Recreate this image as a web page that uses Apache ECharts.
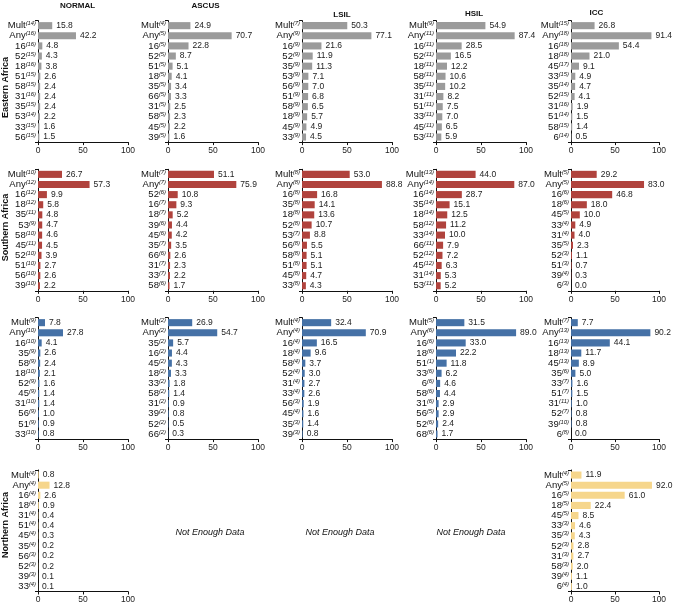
<!DOCTYPE html>
<html><head><meta charset="utf-8">
<script src="https://cdn.jsdelivr.net/npm/echarts/dist/echarts.min.js"></script>
<style>html,body{margin:0;padding:0;background:#fff}#c{width:674px;height:605px}</style>
</head><body><div id="c"></div><script>
// ---- data ----
const columns = ['NORMAL','ASCUS','LSIL','HSIL','ICC'];
const regions = ['Eastern Africa','Southern Africa','','Northern Africa'];
const noDataText = 'Not Enough Data';

// Eastern Africa
const eaNormalCats = ['Mult(14)','Any(16)','16(16)','52(15)','18(16)','51(15)','58(15)','31(16)','35(15)','53(14)','33(15)','56(15)'];
const eaNormalVals = [15.8,42.2,4.8,4.3,3.8,2.6,2.4,2.4,2.4,2.2,1.6,1.5];
const eaAscusCats = ['Mult(4)','Any(5)','16(5)','52(5)','51(5)','18(5)','35(5)','66(5)','31(5)','58(5)','45(5)','39(5)'];
const eaAscusVals = [24.9,70.7,22.8,8.7,5.1,4.1,3.4,3.3,2.5,2.3,2.2,1.6];
const eaLsilCats = ['Mult(7)','Any(9)','16(9)','52(9)','35(9)','53(9)','56(9)','51(9)','58(9)','18(9)','45(9)','33(9)'];
const eaLsilVals = [50.3,77.1,21.6,11.9,11.3,7.1,7.0,6.8,6.5,5.7,4.9,4.5];
const eaHsilCats = ['Mult(9)','Any(11)','16(11)','52(11)','18(11)','58(11)','35(11)','31(11)','51(11)','33(11)','45(11)','53(11)'];
const eaHsilVals = [54.9,87.4,28.5,16.5,12.2,10.6,10.2,8.2,7.5,7.0,6.5,5.9];
const eaIccCats = ['Mult(15)','Any(18)','16(18)','18(18)','45(17)','33(15)','35(14)','52(15)','31(16)','51(14)','58(15)','6(14)'];
const eaIccVals = [26.8,91.4,54.4,21.0,9.1,4.9,4.7,4.1,1.9,1.5,1.4,0.5];

// Southern Africa
const saNormalCats = ['Mult(10)','Any(12)','16(12)','18(12)','35(11)','53(9)','58(10)','45(11)','52(10)','51(10)','56(10)','39(10)'];
const saNormalVals = [26.7,57.3,9.9,5.8,4.8,4.7,4.6,4.5,3.9,2.7,2.6,2.2];
const saAscusCats = ['Mult(7)','Any(7)','52(6)','16(7)','18(7)','39(6)','45(6)','35(7)','66(6)','31(7)','33(7)','58(6)'];
const saAscusVals = [51.1,75.9,10.8,9.3,5.2,4.4,4.2,3.5,2.6,2.3,2.2,1.7];
const saLsilCats = ['Mult(8)','Any(8)','16(8)','35(8)','18(8)','52(8)','53(7)','56(8)','58(8)','51(8)','45(8)','33(8)'];
const saLsilVals = [53.0,88.8,16.8,14.1,13.6,10.7,8.8,5.5,5.1,5.1,4.7,4.3];
const saHsilCats = ['Mult(13)','Any(14)','16(14)','35(14)','18(14)','58(12)','33(14)','66(11)','52(12)','45(12)','31(14)','53(11)'];
const saHsilVals = [44.0,87.0,28.7,15.1,12.5,11.2,10.0,7.9,7.2,6.3,5.3,5.2];
const saIccCats = ['Mult(5)','Any(5)','16(6)','18(6)','45(5)','33(4)','31(4)','35(5)','52(3)','51(3)','39(4)','6(3)'];
const saIccVals = [29.2,83.0,46.8,18.0,10.0,4.9,4.0,2.3,1.1,0.7,0.3,0.0];

// third row (blue)
const r3NormalCats = ['Mult(9)','Any(10)','16(10)','35(9)','58(9)','18(10)','52(9)','45(9)','31(10)','56(9)','51(9)','33(10)'];
const r3NormalVals = [7.8,27.8,4.1,2.6,2.4,2.1,1.6,1.4,1.4,1.0,0.9,0.8];
const r3AscusCats = ['Mult(2)','Any(2)','35(2)','16(2)','45(2)','18(2)','33(2)','58(2)','31(2)','39(2)','52(2)','66(2)'];
const r3AscusVals = [26.9,54.7,5.7,4.4,4.3,3.3,1.8,1.4,0.9,0.8,0.5,0.3];
const r3LsilCats = ['Mult(4)','Any(4)','16(4)','18(4)','58(4)','52(4)','31(4)','33(4)','56(3)','45(4)','35(3)','39(3)'];
const r3LsilVals = [32.4,70.9,16.5,9.6,3.7,3.0,2.7,2.6,1.9,1.6,1.4,0.8];
const r3HsilCats = ['Mult(5)','Any(6)','16(6)','18(6)','51(1)','33(6)','6(6)','58(6)','31(6)','56(5)','52(6)','68(6)'];
const r3HsilVals = [31.5,89.0,33.0,22.2,11.8,6.2,4.6,4.4,2.9,2.9,2.4,1.7];
const r3IccCats = ['Mult(7)','Any(13)','16(13)','18(13)','45(13)','35(6)','33(7)','51(7)','31(11)','52(7)','39(10)','6(8)'];
const r3IccVals = [7.7,90.2,44.1,11.7,8.9,5.0,1.6,1.5,1.0,0.8,0.8,0.0];

// Northern Africa
const naNormalCats = ['Mult(4)','Any(4)','16(4)','18(4)','31(4)','51(4)','45(4)','35(4)','56(3)','52(3)','39(3)','33(4)'];
const naNormalVals = [0.8,12.8,2.6,0.9,0.4,0.4,0.3,0.2,0.2,0.2,0.1,0.1];
const naIccCats = ['Mult(4)','Any(5)','16(5)','18(5)','45(5)','33(3)','35(3)','52(3)','31(3)','58(3)','39(4)','6(4)'];
const naIccVals = [11.9,92.0,61.0,22.4,8.5,4.6,4.3,2.8,2.7,2.0,1.1,1.0];

const xTicks = [0, 50, 100];

const panels = [
  [0,0,eaNormalCats,eaNormalVals],[0,1,eaAscusCats,eaAscusVals],[0,2,eaLsilCats,eaLsilVals],[0,3,eaHsilCats,eaHsilVals],[0,4,eaIccCats,eaIccVals],
  [1,0,saNormalCats,saNormalVals],[1,1,saAscusCats,saAscusVals],[1,2,saLsilCats,saLsilVals],[1,3,saHsilCats,saHsilVals],[1,4,saIccCats,saIccVals],
  [2,0,r3NormalCats,r3NormalVals],[2,1,r3AscusCats,r3AscusVals],[2,2,r3LsilCats,r3LsilVals],[2,3,r3HsilCats,r3HsilVals],[2,4,r3IccCats,r3IccVals],
  [3,0,naNormalCats,naNormalVals],[3,4,naIccCats,naIccVals]
];
const noDataCells = [[3,1],[3,2],[3,3]];

// ---- layout / style ----
const rowColors = ['#9b9b9b','#b0433d','#4571a6','#f6d68c'];
const gridLeft = [38,168,302,436,571];
const gridWidth = [90,90,90,90,88];
const gridTop = [20.6,169.3,317.6,470];
const gridH = 121.5;
const titleX = [77.5,205.5,342,474,596.5];
const titleY = [6,6,15,14,13];
const regionY = [87.5,227.5,0,525];
const FONT = 'Liberation Sans, Arial, sans-serif';

const chart = echarts.init(document.getElementById('c'), null, {renderer:'canvas'});

const grids = [], xAxes = [], yAxes = [], series = [];
panels.forEach((p, i) => {
  const [r, c, cats, vals] = p;
  grids.push({left: gridLeft[c], top: gridTop[r], width: gridWidth[c], height: gridH, containLabel: false});
  xAxes.push({
    gridIndex: i, type: 'value', min: xTicks[0], max: xTicks[xTicks.length-1], interval: 50,
    axisLine: {show: true, lineStyle: {color: '#111', width: 1}},
    axisTick: {show: true, length: 3, lineStyle: {color: '#111'}},
    splitLine: {show: false},
    axisLabel: {fontSize: 8.5, color: '#222', margin: 4, fontFamily: FONT}
  });
  yAxes.push({
    gridIndex: i, type: 'category', inverse: true, data: cats,
    axisLine: {show: true, lineStyle: {color: '#111', width: 1}},
    axisTick: {show: true, length: 3, interval: idx => idx === 0, lineStyle: {color: '#111'}},
    axisLabel: {
      margin: 2, interval: 0,
      formatter: v => { const m = v.match(/^(.*)\((\d+)\)$/); return '{a|' + m[1] + '}{s|(' + m[2] + ')}'; },
      rich: {
        a: {fontSize: 9.5, color: '#111', fontFamily: FONT},
        s: {fontSize: 5.8, fontStyle: 'italic', color: '#111', verticalAlign: 'top', fontFamily: FONT}
      }
    }
  });
  series.push({
    type: 'bar', xAxisIndex: i, yAxisIndex: i, data: vals,
    barCategoryGap: '30%',
    itemStyle: {color: rowColors[r]},
    label: {show: true, position: 'right', distance: 4, fontSize: 8.5, color: '#222', fontFamily: FONT,
      formatter: d => Number(d.value).toFixed(1)},
    silent: true, animation: false
  });
});

const graphics = [];
columns.forEach((t, c) => graphics.push({type: 'text', x: titleX[c], y: titleY[c],
  style: {text: t, font: 'bold 8px ' + FONT, fill: '#111', textAlign: 'center', textVerticalAlign: 'middle'}}));
regions.forEach((t, r) => { if (!t) return; graphics.push({type: 'text', x: 6, y: regionY[r], rotation: Math.PI/2,
  style: {text: t, font: 'bold 9px ' + FONT, fill: '#111', textAlign: 'center', textVerticalAlign: 'middle'}}); });
const noDataX = [0, 210, 340, 471];
noDataCells.forEach(([r, c]) => graphics.push({type: 'text', x: noDataX[c], y: 532,
  style: {text: noDataText, font: 'italic 9px ' + FONT, fill: '#111', textAlign: 'center', textVerticalAlign: 'middle'}}));

chart.setOption({animation: false, grid: grids, xAxis: xAxes, yAxis: yAxes, series: series, graphic: graphics});
</script></body></html>
